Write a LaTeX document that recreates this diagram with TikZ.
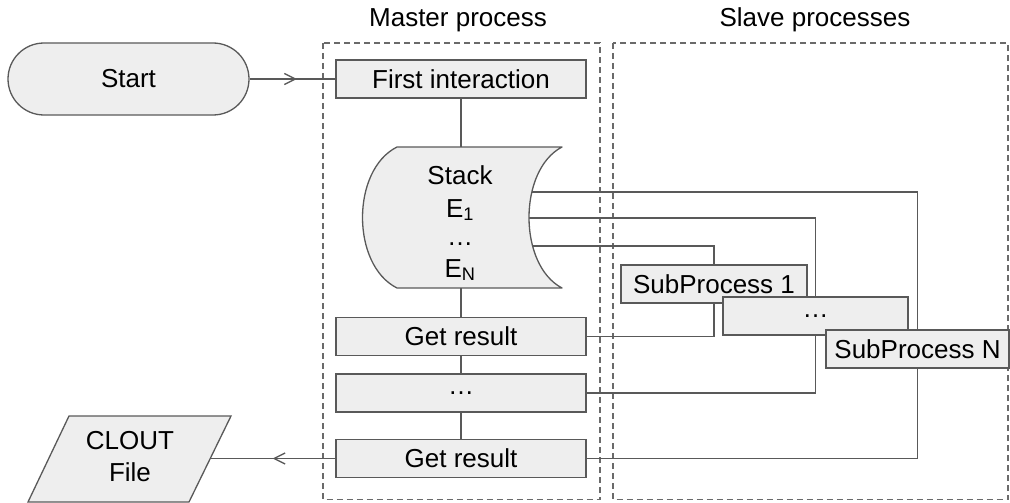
\documentclass[tikz,border=0pt]{standalone}
\usepackage{fontspec}
\setmainfont{Liberation Sans}
\usetikzlibrary{arrows.meta,decorations.markings}
\definecolor{boxfill}{HTML}{EEEEEE}
\definecolor{edge}{HTML}{595959}
\definecolor{dashc}{HTML}{6A6A6A}
\begin{document}
\begin{tikzpicture}[x=1pt,y=-1pt,
  font=\fontsize{26}{31}\selectfont,
  procbox/.style={draw=edge,fill=boxfill,line width=1.3pt,minimum height=38pt,inner sep=0pt},
  conn/.style={draw=edge,line width=1.3pt},
  midarrow/.style={postaction={decorate},decoration={markings,mark=at position #1 with {\arrow{Straight Barb[length=11pt,width=11pt,line width=1.3pt]}}}},
  groupbox/.style={draw=dashc,dash pattern=on 6pt off 4pt,line width=1.2pt}
]
\useasboundingbox (0,0) rectangle (1010,503);

% titles
\node (mt) at (458,20) {Master process};
\node (slt) at (815,20) {Slave processes};

% group boxes
\draw[groupbox] (323,43) rectangle (600,499.5);
\draw[groupbox] (613,43) rectangle (1008,499.5);

% node placeholders
\node[draw=edge,fill=boxfill,line width=1.3pt,rounded corners=36pt,minimum width=241pt,minimum height=72pt] (start) at (128.5,79) {Start};
\node[minimum width=202pt,minimum height=141pt,inner sep=0pt] (stack) at (461,217.5) {};
\coordinate (a1) at (500,192);
\coordinate (a2) at (500,218);
\coordinate (a3) at (500,246);
\coordinate (cloutR) at (210,458.5);

% master boxes
\node[procbox,minimum width=250pt] (first) at (461,79) {First interaction};
\node[procbox,minimum width=250pt] (get1) at (461,336.5) {Get result};
\node[procbox,minimum width=250pt] (dots) at (461,393) {…};
\node[procbox,minimum width=250pt] (get2) at (461,458.5) {Get result};

% sub process centres
\path (714,284) coordinate (sp1c);
\path (815.5,316) coordinate (spdc);
\path (917.5,349) coordinate (spnc);

% connectors to slaves
\draw[conn] (a1) -| (spnc);
\draw[conn] (get2.east) -| (spnc);
\draw[conn] (a2) -| (spdc);
\draw[conn] (dots.east) -| (spdc);
\draw[conn] (a3) -| (sp1c);
\draw[conn] (get1.east) -| (sp1c);

% stack shape
\path[draw=edge,fill=boxfill,line width=1.3pt,line join=round]
  (397,147) -- (562,147) .. controls (518,170) and (518,265) .. (562,288)
  -- (397,288) .. controls (351,265) and (351,170) .. (397,147) -- cycle;
\node[anchor=base] (stk1) at (460,184) {Stack};
\node[anchor=base] (stk2) at (460,217) {E\textsubscript{1}};
\node[anchor=base] (stk3) at (460,245) {…};
\node[anchor=base] (stk4) at (460,277) {E\textsubscript{N}};

% master vertical connectors
\draw[conn] (first) -- (stack);
\draw[conn] (stack) -- (get1);
\draw[conn] (get1) -- (dots);
\draw[conn] (dots) -- (get2);

% start arrow
\draw[conn,midarrow=0.55] (start) -- (first);

% slave boxes
\node[procbox,minimum width=186pt] (sp1) at (sp1c) {SubProcess 1};
\node[procbox,minimum width=185pt] (spd) at (spdc) {…};
\node[procbox,minimum width=183pt] (spn) at (spnc) {SubProcess N};

% output
\path[draw=edge,fill=boxfill,line width=1.3pt] (69,416) -- (231,416) -- (189,502) -- (28,502) -- cycle;
\node[align=center,font=\fontsize{26}{32}\selectfont] (clout) at (130,457) {CLOUT\\File};
\draw[conn,midarrow=0.5] (get2) -- (cloutR);
\end{tikzpicture}
\end{document}
